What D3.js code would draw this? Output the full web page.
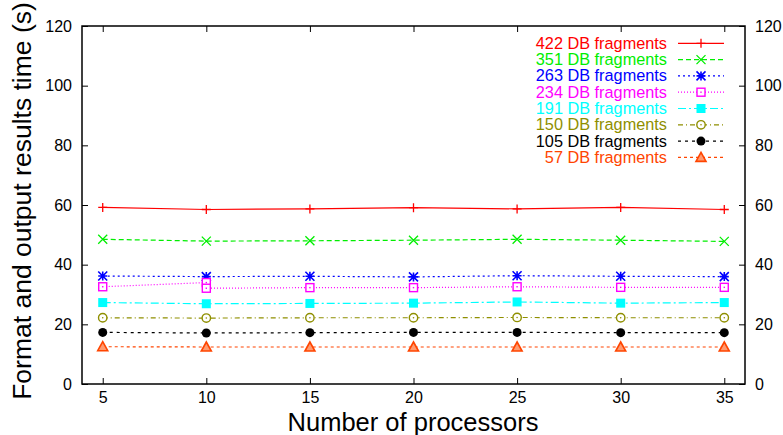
<!DOCTYPE html>
<html><head><meta charset="utf-8">
<script src="https://cdn.jsdelivr.net/npm/d3@7"></script>
<style>body{margin:0;background:#fff}svg{display:block}text{font-family:"Liberation Sans",Arial,sans-serif}</style>
</head><body><svg id="c" width="783" height="435"></svg>
<script>
const processors = [5, 10, 15, 20, 25, 30, 35];
const processors234 = [5, 10, 10, 15, 20, 25, 30, 35];
const yTicks = [0, 20, 40, 60, 80, 100, 120];
const xTicks = [5, 10, 15, 20, 25, 30, 35];
const labels = ["422 DB fragments","351 DB fragments","263 DB fragments","234 DB fragments","191 DB fragments","150 DB fragments","105 DB fragments","57 DB fragments"];
const frag422 = [59.2, 58.5, 58.7, 59.1, 58.7, 59.2, 58.5];
const frag351 = [48.5, 47.9, 48.0, 48.2, 48.5, 48.2, 47.8];
const frag263 = [36.2, 36.0, 36.1, 35.9, 36.3, 36.1, 36.0];
const frag234 = [32.6, 34.0, 32.1, 32.3, 32.3, 32.6, 32.4, 32.4];
const frag191 = [27.3, 26.9, 27.0, 27.1, 27.5, 27.1, 27.3];
const frag150 = [22.2, 22.1, 22.2, 22.2, 22.3, 22.2, 22.2];
const frag105 = [17.3, 17.1, 17.2, 17.3, 17.3, 17.2, 17.2];
const frag57  = [12.5, 12.4, 12.4, 12.4, 12.4, 12.4, 12.4];

const styles = [
  {color:"#ff0000", dash:null, marker:"plus"},
  {color:"#00ee00", dash:"5,3", marker:"cross"},
  {color:"#0000ff", dash:"2,3", marker:"star"},
  {color:"#ff00ff", dash:"1,2", marker:"sqOpen"},
  {color:"#00ffff", dash:"8,3,2,3", marker:"sqFill"},
  {color:"#8f8f00", dash:"5,3,1,3", marker:"circOpen"},
  {color:"#000000", dash:"3,4", marker:"circFill"},
  {color:"#ff4500", dash:"3,3", marker:"triOpen"}
];
const seriesVals = [frag422, frag351, frag263, frag234, frag191, frag150, frag105, frag57];
const seriesX = [processors, processors, processors, processors234, processors, processors, processors, processors];

const svg = d3.select("#c");
const L = 82, R = 745, T = 26, B = 384;
const x = d3.scaleLinear().domain([4, 36]).range([L, R]);
const y = d3.scaleLinear().domain([0, 120]).range([B, T]);

const tl = 6;
svg.append("g").attr("transform",`translate(0,${B})`).call(d3.axisBottom(x).tickValues(xTicks).tickSize(-tl).tickPadding(8).tickFormat(d3.format("d")));
svg.append("g").attr("transform",`translate(0,${T})`).call(d3.axisTop(x).tickValues(xTicks).tickSize(-tl).tickFormat(""));
svg.append("g").attr("transform",`translate(${L},0)`).call(d3.axisLeft(y).tickValues(yTicks).tickSize(-tl).tickPadding(10));
svg.append("g").attr("transform",`translate(${R},0)`).call(d3.axisRight(y).tickValues(yTicks).tickSize(-tl).tickPadding(10));
svg.selectAll(".domain").remove();
svg.selectAll(".tick line").attr("stroke","#000").attr("stroke-width",1);
svg.selectAll(".tick text").attr("font-size",16).attr("fill","#000").style("font-family","'Liberation Sans',Arial,sans-serif");
svg.append("rect").attr("x",L).attr("y",T).attr("width",R-L).attr("height",B-T).attr("fill","none").attr("stroke","#000").attr("stroke-width",1.5);

function marker(g, type, cx, cy, color){
  const s = 4.5;
  if(type==="plus"){
    g.append("path").attr("d",`M${cx-s},${cy}H${cx+s}M${cx},${cy-s}V${cy+s}`).attr("stroke",color).attr("stroke-width",1.3);
  } else if(type==="cross"){
    g.append("path").attr("d",`M${cx-s},${cy-s}L${cx+s},${cy+s}M${cx-s},${cy+s}L${cx+s},${cy-s}`).attr("stroke",color).attr("stroke-width",1.3);
  } else if(type==="star"){
    g.append("path").attr("d",`M${cx-s},${cy}H${cx+s}M${cx},${cy-s}V${cy+s}M${cx-s},${cy-s}L${cx+s},${cy+s}M${cx-s},${cy+s}L${cx+s},${cy-s}`).attr("stroke",color).attr("stroke-width",1.6);
  } else if(type==="sqOpen"){
    g.append("rect").attr("x",cx-4).attr("y",cy-4).attr("width",8).attr("height",8).attr("fill","#fff").attr("stroke",color).attr("stroke-width",1.4);
    g.append("rect").attr("x",cx-0.7).attr("y",cy-0.7).attr("width",1.4).attr("height",1.4).attr("fill",color);
  } else if(type==="sqFill"){
    g.append("rect").attr("x",cx-4.5).attr("y",cy-4.5).attr("width",9).attr("height",9).attr("fill",color);
  } else if(type==="circOpen"){
    g.append("circle").attr("cx",cx).attr("cy",cy).attr("r",4.2).attr("fill","#fff").attr("stroke",color).attr("stroke-width",1.4);
    g.append("circle").attr("cx",cx).attr("cy",cy).attr("r",0.8).attr("fill",color);
  } else if(type==="circFill"){
    g.append("circle").attr("cx",cx).attr("cy",cy).attr("r",4.5).attr("fill",color);
  } else if(type==="triOpen"){
    g.append("path").attr("d",`M${cx},${cy-5}L${cx+5},${cy+4}L${cx-5},${cy+4}Z`).attr("fill","#ff9a70").attr("stroke",color).attr("stroke-width",1.6);
  }
}

const line = d3.line().x(d=>x(d[0])).y(d=>y(d[1]));
seriesVals.forEach((vals,i)=>{
  const st = styles[i];
  const pts = vals.map((v,j)=>[seriesX[i][j], v]);
  const g = svg.append("g");
  g.append("path").attr("d",line(pts)).attr("fill","none").attr("stroke",st.color).attr("stroke-width",1.2).attr("stroke-dasharray",st.dash);
  pts.forEach(p=>marker(g, st.marker, x(p[0]), y(p[1]), st.color));
});

labels.forEach((lab,i)=>{
  const st = styles[i];
  const cy = 43.3 + i*16.3;
  svg.append("text").attr("x",667).attr("y",cy+5.5).attr("text-anchor","end").attr("font-size",16.3).attr("fill",st.color).text(lab);
  svg.append("line").attr("x1",678).attr("x2",724).attr("y1",cy).attr("y2",cy).attr("stroke",st.color).attr("stroke-width",1.2).attr("stroke-dasharray",st.dash);
  marker(svg.append("g"), st.marker, 701, cy, st.color);
});

svg.append("text").attr("x",413).attr("y",431).attr("text-anchor","middle").attr("font-size",25.5).attr("fill","#000").text("Number of processors");
svg.append("text").attr("transform","translate(31,201) rotate(-90)").attr("text-anchor","middle").attr("font-size",26.5).attr("fill","#000").text("Format and output results time (s)");
</script></body></html>
